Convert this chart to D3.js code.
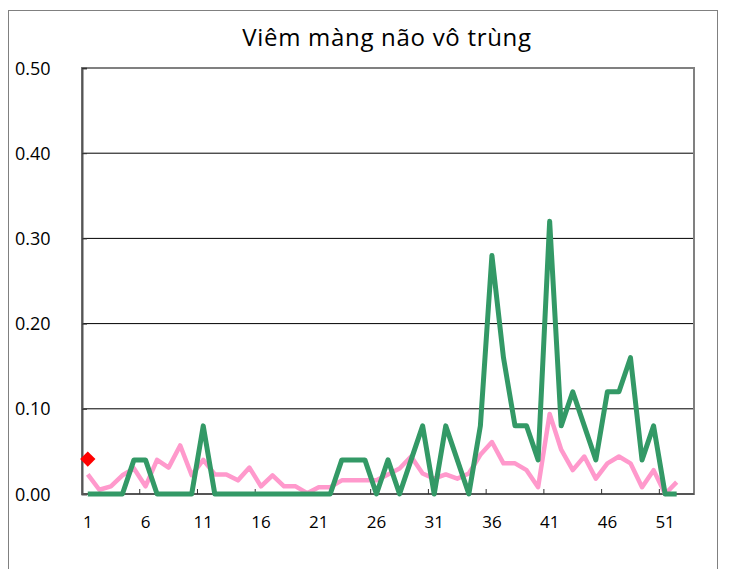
<!DOCTYPE html>
<html>
<head>
<meta charset="utf-8">
<script src="https://cdn.jsdelivr.net/npm/d3@7"></script>
<style>
  body { margin: 0; background: #fff; }
  svg { display: block; font-family: "Open Sans", sans-serif; }
</style>
</head>
<body>
<div id="chart"></div>
<script>
const title = 'Viêm màng não vô trùng';
const weeks = d3.range(1, 54);
const tickWeeks = [1, 6, 11, 16, 21, 26, 31, 36, 41, 46, 51];
const yTicks = [0, 0.1, 0.2, 0.3, 0.4, 0.5];

// pink series (weeks 1..52)
const pinkValues = [
  0.023, 0.005, 0.009, 0.022, 0.030, 0.009, 0.040, 0.031, 0.057, 0.022,
  0.040, 0.023, 0.023, 0.016, 0.031, 0.009, 0.022, 0.009, 0.009, 0.001,
  0.008, 0.008, 0.016, 0.016, 0.016, 0.016, 0.023, 0.030, 0.044, 0.024,
  0.018, 0.023, 0.018, 0.024, 0.046, 0.061, 0.036, 0.036, 0.028, 0.008,
  0.094, 0.052, 0.028, 0.044, 0.018, 0.036, 0.044, 0.036, 0.008, 0.028,
  0.000, 0.014
];
// green series (weeks 1..52)
const greenValues = [
  0, 0, 0, 0, 0.04, 0.04, 0, 0, 0, 0,
  0.08, 0, 0, 0, 0, 0, 0, 0, 0, 0,
  0, 0, 0.04, 0.04, 0.04, 0, 0.04, 0, 0.04, 0.08,
  0, 0.08, 0.04, 0, 0.08, 0.28, 0.16, 0.08, 0.08, 0.04,
  0.32, 0.08, 0.12, 0.08, 0.04, 0.12, 0.12, 0.16, 0.04, 0.08,
  0, 0
];
// current week marker
const markerWeeks = [1];
const markerValues = [0.041];

const width = 729, height = 569;
const margin = { top: 68, right: 35, bottom: 75, left: 82 };

const svg = d3.select('#chart').append('svg')
  .attr('width', width)
  .attr('height', height);

// outer chart border
svg.append('rect')
  .attr('x', 8.5).attr('y', 10.5)
  .attr('width', 709).attr('height', 580)
  .attr('fill', 'none').attr('stroke', '#808080').attr('stroke-width', 1);

svg.append('text')
  .attr('x', 387).attr('y', 46)
  .attr('text-anchor', 'middle')
  .attr('font-size', '24px')
  .attr('letter-spacing', '0.7px')
  .attr('fill', '#000')
  .text(title);

const x = d3.scaleBand()
  .domain(weeks)
  .range([margin.left, width - margin.right]);

const y = d3.scaleLinear()
  .domain([0, 0.5])
  .range([height - margin.bottom, margin.top]);

const cx = d => x(d) + x.bandwidth() / 2;

// gridlines
svg.append('g')
  .selectAll('line')
  .data(yTicks.slice(1, -1))
  .join('line')
  .attr('x1', margin.left).attr('x2', width - margin.right)
  .attr('y1', d => y(d)).attr('y2', d => y(d))
  .attr('stroke', '#000').attr('stroke-width', 1);

// plot border
svg.append('rect')
  .attr('x', margin.left).attr('y', margin.top)
  .attr('width', width - margin.right - margin.left)
  .attr('height', height - margin.bottom - margin.top)
  .attr('fill', 'none').attr('stroke', '#808080').attr('stroke-width', 2);

// y axis
const yAxis = svg.append('g')
  .attr('transform', `translate(${margin.left},0)`)
  .call(d3.axisRight(y).tickValues(yTicks).tickSize(5).tickFormat(''));
yAxis.select('.domain').attr('stroke', '#555').attr('stroke-width', 2);
yAxis.selectAll('.tick line').attr('stroke', '#333');

svg.append('g')
  .selectAll('text')
  .data(yTicks)
  .join('text')
  .attr('x', 15)
  .attr('y', d => y(d) + 6.5)
  .attr('font-size', '18px')
  .attr('fill', '#000')
  .text(d3.format('.2f'));

// x axis: tick marks between categories every 5 weeks
const xAxis = svg.append('g')
  .attr('transform', `translate(0,${height - margin.bottom})`);
xAxis.append('line')
  .attr('x1', margin.left).attr('x2', width - margin.right)
  .attr('stroke', '#555').attr('stroke-width', 2);
xAxis.selectAll('line.tk')
  .data(tickWeeks.slice(1))
  .join('line')
  .attr('class', 'tk')
  .attr('x1', d => x(d)).attr('x2', d => x(d))
  .attr('y1', 0).attr('y2', -5)
  .attr('stroke', '#333');
xAxis.selectAll('text')
  .data(tickWeeks)
  .join('text')
  .attr('x', d => cx(d))
  .attr('y', 34)
  .attr('text-anchor', 'middle')
  .attr('font-size', '17px')
  .attr('fill', '#000')
  .text(d => d);

const line = d3.line()
  .x(d => cx(d[0]))
  .y(d => y(d[1]));

svg.append('path')
  .datum(pinkValues.map((v, i) => [weeks[i], v]))
  .attr('d', line)
  .attr('fill', 'none')
  .attr('stroke', '#ff99cc')
  .attr('stroke-width', 4.5)
  .attr('stroke-linejoin', 'round');

svg.append('path')
  .datum(greenValues.map((v, i) => [weeks[i], v]))
  .attr('d', line)
  .attr('fill', 'none')
  .attr('stroke', '#339966')
  .attr('stroke-width', 5)
  .attr('stroke-linejoin', 'round');

svg.append('g')
  .selectAll('path')
  .data(markerWeeks.map((w, i) => [w, markerValues[i]]))
  .join('path')
  .attr('transform', d => `translate(${cx(d[0])},${y(d[1])})`)
  .attr('d', d3.symbol(d3.symbolDiamond2, 150))
  .attr('fill', '#ff0000');
</script>
</body>
</html>
